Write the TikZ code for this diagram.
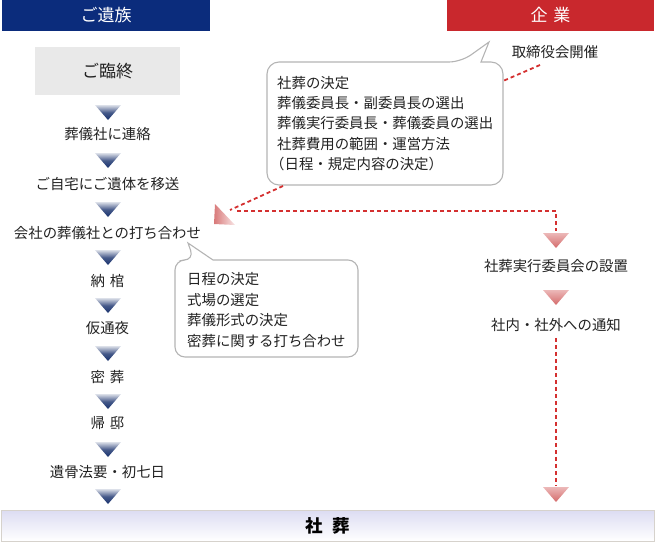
\documentclass[tikz,border=0pt]{standalone}
\usepackage{fontspec}
\setmainfont{Noto Sans CJK JP}
\definecolor{navy}{HTML}{0B2C7C}
\definecolor{corpred}{HTML}{C9282D}
\definecolor{tri}{HTML}{17306C}
\definecolor{dashred}{HTML}{D43030}
\definecolor{txt}{HTML}{222222}
\definecolor{bubline}{HTML}{B4B4B4}
\definecolor{boxgray}{HTML}{E9E9E9}
\definecolor{barborder}{HTML}{D6D2CC}
\definecolor{bartop}{HTML}{DCDCF2}
\definecolor{redtop}{HTML}{ECB8B8}
\definecolor{redbot}{HTML}{D46A6A}
\begin{document}
\begin{tikzpicture}[x=1pt,y=-1pt,
  lbl/.style={inner sep=0pt, text=txt, font=\fontsize{14.4}{17}\selectfont},
  hdr/.style={inner sep=0pt, text=white, font=\fontsize{17}{20}\selectfont},
  redline/.style={draw=dashred, line width=1.8pt, dash pattern=on 4pt off 3pt},
  bubble/.style={draw=bubline, line width=1.1pt, fill=white},
  bubtext/.style={inner sep=0pt, text=txt, align=left, anchor=west, font=\fontsize{14.4}{20.4}\selectfont},
  bluetri/.pic={\shade[top color=white!85!tri, bottom color=tri, middle color=tri!80!white] (-13,0) -- (13,0) -- (0,15) -- cycle;},
  redtri/.pic={\shade[top color=redtop, bottom color=redbot] (-13,0) -- (13,0) -- (0,15) -- cycle;}
]
\useasboundingbox (0,0) rectangle (656,543);

% headers
\node[hdr, fill=navy, minimum width=208pt, minimum height=31pt] (family) at (106,15.5) {ご遺族};
\node[hdr, fill=corpred, minimum width=207pt, minimum height=31pt] (corp) at (550.5,15.5) {企\hspace{6pt}業};

% left column
\node[lbl, fill=boxgray, minimum width=145pt, minimum height=48pt, font=\fontsize{17}{20}\selectfont] (rinju) at (107.5,71) {ご臨終};
\node[lbl] (s1) at (107.5,134) {葬儀社に連絡};
\node[lbl] (s2) at (107.5,184) {ご自宅にご遺体を移送};
\node[lbl] (s3) at (107.5,233) {会社の葬儀社との打ち合わせ};
\node[lbl] (s4) at (107.5,281) {納\hspace{5pt}棺};
\node[lbl] (s5) at (107.5,328) {仮通夜};
\node[lbl] (s6) at (107.5,377) {密\hspace{5pt}葬};
\node[lbl] (s7) at (107.5,423) {帰\hspace{5pt}邸};
\node[lbl] (s8) at (107.5,472) {遺骨法要・初七日};

\foreach \ty in {105,153,202,250,298,346,394,442,489}
  \pic at (108,\ty) {bluetri};

% bottom bar
\node[draw=barborder, line width=1pt, top color=bartop, bottom color=white,
      minimum width=653pt, minimum height=31pt, inner sep=0pt, text=black,
      font=\fontsize{17.5}{20}\selectfont\bfseries] (shaso) at (327.5,525.5) {社\hspace{10pt}葬};

% right column
\node[lbl] (board) at (555,52) {取締役会開催};
\node[lbl] (r1) at (556,266) {社葬実行委員会の設置};
\node[lbl] (r2) at (556,325) {社内・社外への通知};
\pic at (556,233) {redtri};
\pic at (556,290) {redtri};
\pic at (556,487) {redtri};

% big bubble
\draw[bubble] (481,62) [rounded corners=12pt] -- (503,62) -- (503,185) -- (267,185) -- (267,62) -- (461,62) [sharp corners] -- (489,42) -- cycle;
\node[bubtext] (bigtxt) at (277,123.6) {社葬の決定\\葬儀委員長・副委員長の選出\\葬儀実行委員長・葬儀委員の選出\\社葬費用の範囲・運営方法\\\kern-7pt（日程・規定内容の決定）};

% small bubble
\draw[bubble] (213,260) [rounded corners=10pt] -- (358,260) -- (358,357) -- (175,357) -- (175,260) -- (194,260) [sharp corners] -- (188,243) -- cycle;
\node[bubtext] (smalltxt) at (187,310) {日程の決定\\式場の選定\\葬儀形式の決定\\密葬に関する打ち合わせ};

% red dashed connectors
\coordinate (bA) at (540,65);
\coordinate (bB) at (503,81);
\coordinate (bC) at (283,186);
\coordinate (tipL) at (230,210);
\coordinate (hL) at (237,211);
\coordinate (hR) at (556,211);
\coordinate (vT) at (556,231);
\coordinate (vB) at (556,486);
\draw[redline] (bA) -- (bB);
\draw[redline] (bC) -- (tipL);
\draw[redline] (hL) -- (hR) -- (vT);
\draw[redline] (r2.south) ++(0,6) -- (vB);

% left-pointing arrowhead
\shade[left color=redbot!90!white, right color=redtop!35!white] (215,204) -- (214,224) -- (235,225) -- cycle;
\end{tikzpicture}
\end{document}
